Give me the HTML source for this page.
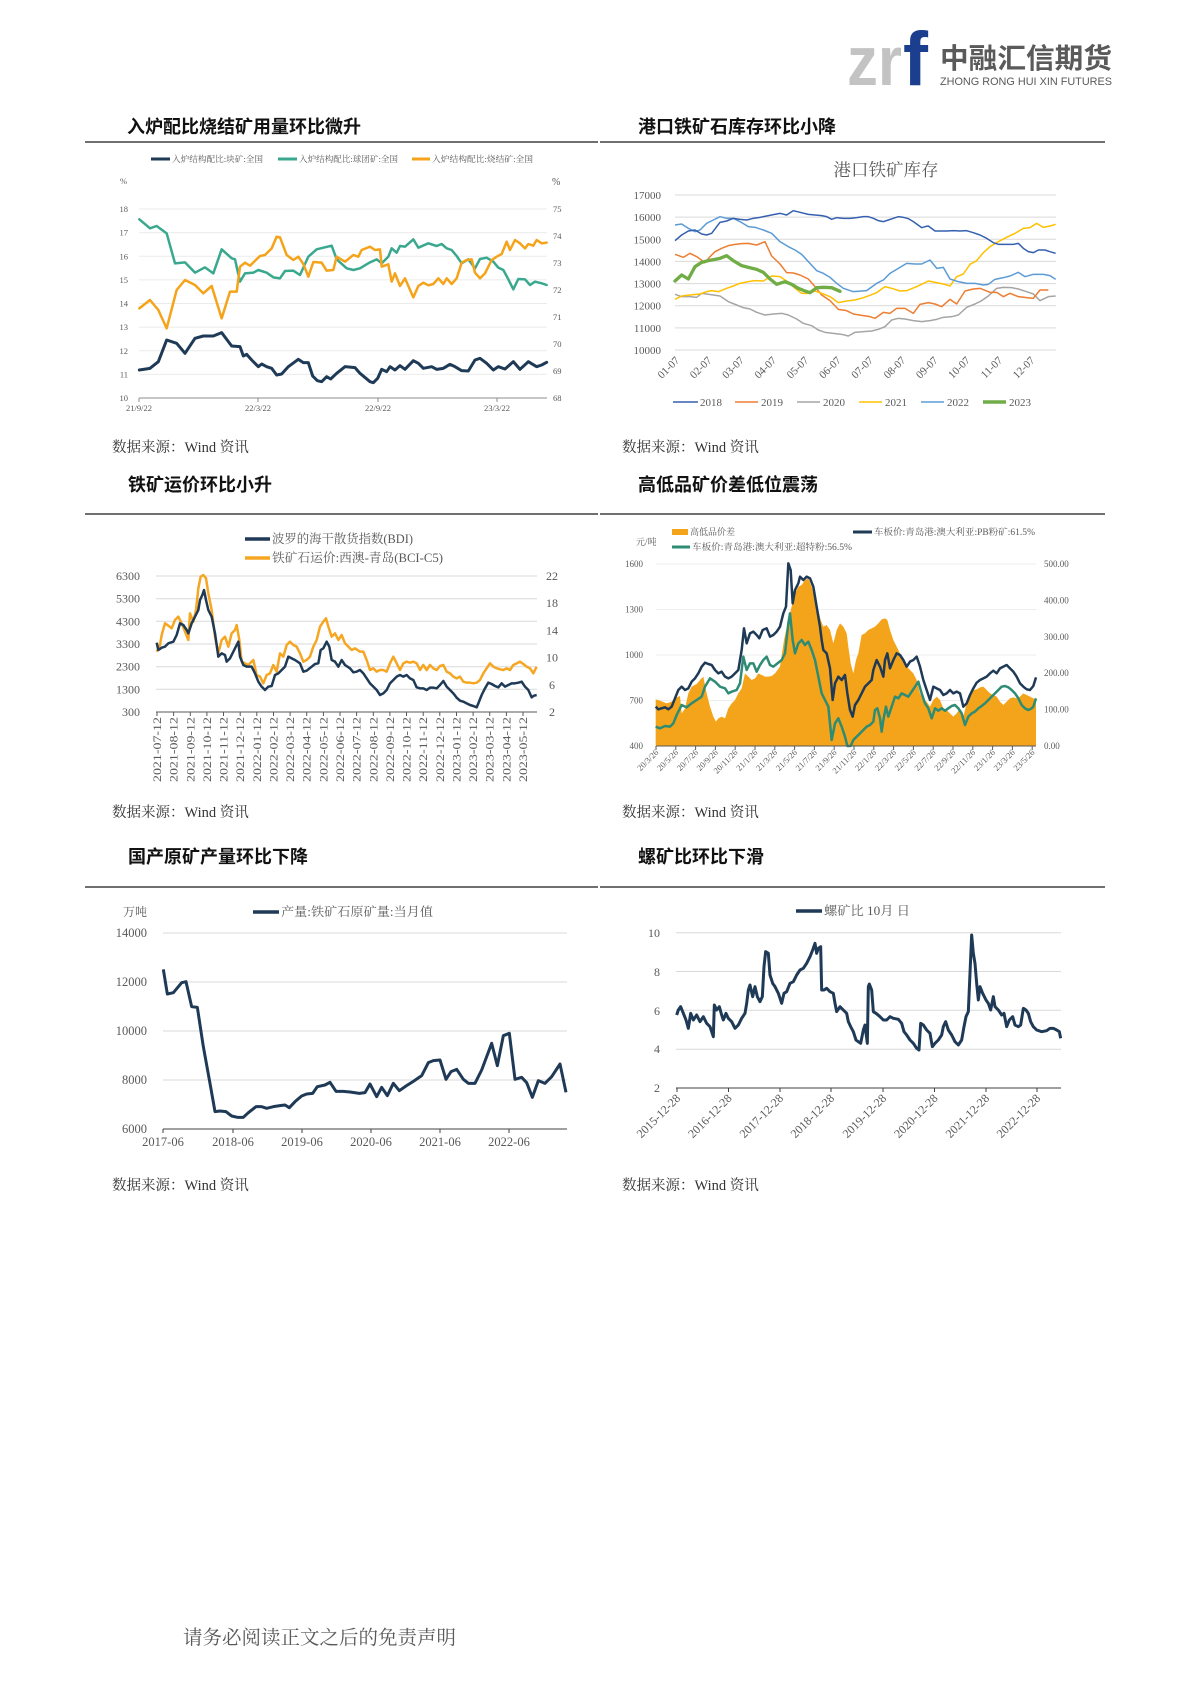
<!DOCTYPE html>
<html><head><meta charset="utf-8"><style>
html,body{margin:0;padding:0;background:#fff;}
svg{display:block;}
.t{font-family:"Liberation Sans","Noto Sans CJK SC",sans-serif;font-weight:bold;font-size:18px;fill:#111;}
.s{font-family:"Liberation Serif","Noto Serif CJK SC",serif;fill:#595959;}
.src{font-family:"Liberation Serif","Noto Serif CJK SC",serif;font-size:14.5px;fill:#333;}
</style></head><body>
<svg width="1190" height="1683" viewBox="0 0 1190 1683" xmlns="http://www.w3.org/2000/svg">
<rect width="1190" height="1683" fill="#fff"/>
<!-- logo -->
<text x="847" y="85" font-family="Liberation Sans" font-weight="bold" font-size="70" fill="#C3C3C3" textLength="55" lengthAdjust="spacingAndGlyphs">zr</text>
<text x="903" y="85" font-family="Liberation Sans" font-weight="bold" font-size="76" fill="#1B3F8E" textLength="25" lengthAdjust="spacingAndGlyphs">f</text>
<text x="940" y="68" font-family="Liberation Sans,Noto Sans CJK SC,sans-serif" font-weight="bold" font-size="28" fill="#5A5A5A" textLength="172" lengthAdjust="spacingAndGlyphs">中融汇信期货</text>
<text x="940" y="85" font-family="Liberation Sans,sans-serif" font-size="11" fill="#5A5A5A" textLength="172" lengthAdjust="spacingAndGlyphs">ZHONG RONG HUI XIN FUTURES</text>

<!-- section lines -->
<g stroke="#404040" stroke-width="1.5">
<line x1="85" y1="142" x2="598" y2="142"/><line x1="600" y1="142" x2="1105" y2="142"/>
<line x1="85" y1="514" x2="598" y2="514"/><line x1="600" y1="514" x2="1105" y2="514"/>
<line x1="85" y1="887" x2="598" y2="887"/><line x1="600" y1="887" x2="1105" y2="887"/>
</g>

<!-- titles -->
<text class="t" x="127" y="133">入炉配比烧结矿用量环比微升</text>
<text class="t" x="638" y="133">港口铁矿石库存环比小降</text>
<text class="t" x="128" y="491">铁矿运价环比小升</text>
<text class="t" x="638" y="491">高低品矿价差低位震荡</text>
<text class="t" x="128" y="863">国产原矿产量环比下降</text>
<text class="t" x="638" y="863">螺矿比环比下滑</text>

<!-- sources -->
<text class="src" x="112" y="452">数据来源：Wind 资讯</text>
<text class="src" x="622" y="452">数据来源：Wind 资讯</text>
<text class="src" x="112" y="817">数据来源：Wind 资讯</text>
<text class="src" x="622" y="817">数据来源：Wind 资讯</text>
<text class="src" x="112" y="1190">数据来源：Wind 资讯</text>
<text class="src" x="622" y="1190">数据来源：Wind 资讯</text>

<!-- footer -->
<text x="183" y="1644" font-family="Liberation Serif,Noto Serif CJK SC,serif" font-size="19.5" fill="#595959">请务必阅读正文之后的免责声明</text>

<!-- ============ CHART 1 ============ -->
<g stroke="#EBEBEB" stroke-width="1">
<line x1="139" y1="209" x2="547" y2="209"/><line x1="139" y1="232.6" x2="547" y2="232.6"/><line x1="139" y1="256.3" x2="547" y2="256.3"/><line x1="139" y1="279.9" x2="547" y2="279.9"/><line x1="139" y1="303.5" x2="547" y2="303.5"/><line x1="139" y1="327.1" x2="547" y2="327.1"/><line x1="139" y1="350.8" x2="547" y2="350.8"/><line x1="139" y1="374.4" x2="547" y2="374.4"/>
</g>
<line x1="139" y1="398" x2="547" y2="398" stroke="#8C8C8C" stroke-width="1"/>
<g stroke="#8C8C8C"><line x1="139" y1="398" x2="139" y2="402"/><line x1="258" y1="398" x2="258" y2="402"/><line x1="378" y1="398" x2="378" y2="402"/><line x1="497" y1="398" x2="497" y2="402"/></g>
<g class="s" font-size="8.5" text-anchor="end">
<text x="128" y="212">18</text><text x="128" y="235.6">17</text><text x="128" y="259.3">16</text><text x="128" y="282.9">15</text><text x="128" y="306.5">14</text><text x="128" y="330.1">13</text><text x="128" y="353.8">12</text><text x="128" y="377.4">11</text><text x="128" y="401">10</text>
</g>
<g class="s" font-size="8.5">
<text x="553" y="212">75</text><text x="553" y="239">74</text><text x="553" y="266">73</text><text x="553" y="293">72</text><text x="553" y="320">71</text><text x="553" y="347">70</text><text x="553" y="374">69</text><text x="553" y="401">68</text>
<text x="120" y="184">%</text><text x="552" y="185" font-size="10">%</text>
</g>
<g class="s" font-size="8.5" text-anchor="middle">
<text x="139" y="411">21/9/22</text><text x="258" y="411">22/3/22</text><text x="378" y="411">22/9/22</text><text x="497" y="411">23/3/22</text>
</g>
<g stroke-width="3">
<line x1="151" y1="159" x2="170" y2="159" stroke="#1F3A56"/>
<line x1="278" y1="159" x2="297" y2="159" stroke="#3AA88E"/>
<line x1="412" y1="159" x2="430" y2="159" stroke="#F5A31A"/>
</g>
<g class="s" font-size="8.5">
<text x="172" y="162" textLength="91" lengthAdjust="spacingAndGlyphs">入炉结构配比:块矿:全国</text>
<text x="299" y="162" textLength="99" lengthAdjust="spacingAndGlyphs">入炉结构配比:球团矿:全国</text>
<text x="432" y="162" textLength="101" lengthAdjust="spacingAndGlyphs">入炉结构配比:烧结矿:全国</text>
</g>
<g transform="translate(80,100) scale(0.333333)" fill="none" stroke-linejoin="round" stroke-linecap="round">
<polyline stroke="#3AA88E" stroke-width="7.5" points="178,358 210,385 230,378 260,400 285,490 315,487 345,518 375,502 400,520 425,448 455,475 465,478 480,545 495,520 520,518 535,510 560,518 580,532 600,535 615,513 640,512 660,525 685,470 710,448 755,437 770,478 800,505 820,510 840,505 870,487 890,478 905,490 925,470 935,445 950,458 960,438 975,440 1000,418 1015,443 1045,430 1070,438 1085,432 1100,445 1115,450 1130,468 1145,490 1165,478 1185,505 1200,477 1220,473 1240,485 1255,503 1270,510 1285,538 1300,568 1315,537 1335,538 1350,555 1365,545 1385,550 1400,555"/>
<polyline stroke="#F5A31A" stroke-width="7.5" points="178,625 210,600 235,630 260,685 290,570 315,540 345,555 370,580 395,558 425,655 450,575 470,575 480,500 495,488 510,497 540,468 555,465 575,445 590,410 600,412 620,465 640,480 655,470 670,492 685,530 700,486 725,488 740,512 760,510 770,470 795,485 820,465 835,470 845,450 870,440 885,450 900,448 905,500 925,493 935,545 945,520 960,558 975,535 1000,592 1015,558 1030,548 1045,556 1060,552 1075,535 1090,552 1100,535 1115,552 1130,535 1145,488 1160,480 1175,478 1185,518 1200,535 1215,520 1235,480 1250,470 1265,462 1280,425 1290,450 1305,420 1320,430 1335,445 1345,432 1360,437 1370,420 1385,430 1400,428"/>
<polyline stroke="#1F3A56" stroke-width="9" points="178,810 210,805 235,785 260,720 290,730 315,760 345,715 370,708 400,708 425,698 455,738 480,740 490,768 500,763 515,780 535,800 545,792 560,800 575,805 590,825 605,822 625,800 655,778 670,788 685,788 698,828 712,842 725,845 740,830 752,837 770,820 795,800 825,803 840,820 870,845 880,848 893,835 905,808 920,815 930,800 945,810 960,797 975,808 1000,782 1015,790 1030,805 1055,800 1070,808 1090,805 1110,793 1125,800 1145,812 1165,813 1185,780 1200,775 1220,790 1240,810 1255,800 1275,807 1300,785 1320,808 1345,785 1370,800 1385,795 1400,787"/>
</g>

<!-- ============ CHART 2 ============ -->
<text class="s" x="886" y="176" font-size="17.5" text-anchor="middle">港口铁矿库存</text>
<g stroke="#D9D9D9" stroke-width="1">
<line x1="675" y1="195" x2="1056" y2="195"/><line x1="675" y1="217.1" x2="1056" y2="217.1"/><line x1="675" y1="239.3" x2="1056" y2="239.3"/><line x1="675" y1="261.4" x2="1056" y2="261.4"/><line x1="675" y1="283.6" x2="1056" y2="283.6"/><line x1="675" y1="305.7" x2="1056" y2="305.7"/><line x1="675" y1="327.9" x2="1056" y2="327.9"/><line x1="675" y1="350" x2="1056" y2="350"/>
</g>
<g class="s" font-size="11" text-anchor="end" fill="#404040">
<text x="661" y="199">17000</text><text x="661" y="221.1">16000</text><text x="661" y="243.3">15000</text><text x="661" y="265.4">14000</text><text x="661" y="287.6">13000</text><text x="661" y="309.7">12000</text><text x="661" y="331.9">11000</text><text x="661" y="354">10000</text>
</g>
<g class="s" font-size="11" text-anchor="end" fill="#404040">
<text transform="translate(680,361) rotate(-45)">01-07</text>
<text transform="translate(712.3,361) rotate(-45)">02-07</text>
<text transform="translate(744.6,361) rotate(-45)">03-07</text>
<text transform="translate(776.9,361) rotate(-45)">04-07</text>
<text transform="translate(809.2,361) rotate(-45)">05-07</text>
<text transform="translate(841.5,361) rotate(-45)">06-07</text>
<text transform="translate(873.8,361) rotate(-45)">07-07</text>
<text transform="translate(906.1,361) rotate(-45)">08-07</text>
<text transform="translate(938.4,361) rotate(-45)">09-07</text>
<text transform="translate(970.7,361) rotate(-45)">10-07</text>
<text transform="translate(1003,361) rotate(-45)">11-07</text>
<text transform="translate(1035.3,361) rotate(-45)">12-07</text>
</g>
<g stroke-width="1.5">
<line x1="673" y1="402" x2="698" y2="402" stroke="#3560B0"/>
<line x1="735" y1="402" x2="758" y2="402" stroke="#ED7D31"/>
<line x1="797" y1="402" x2="820" y2="402" stroke="#A5A5A5"/>
<line x1="859" y1="402" x2="882" y2="402" stroke="#FFC000"/>
<line x1="921" y1="402" x2="944" y2="402" stroke="#5B9BD5"/>
<line x1="983" y1="402" x2="1006" y2="402" stroke="#70AD47" stroke-width="3.5"/>
</g>
<g class="s" font-size="11" fill="#404040">
<text x="700" y="406">2018</text><text x="761" y="406">2019</text><text x="823" y="406">2020</text><text x="885" y="406">2021</text><text x="947" y="406">2022</text><text x="1009" y="406">2023</text>
</g>
<g transform="translate(600,100) scale(0.333333)" fill="none" stroke-linejoin="round" stroke-width="4.5">
<polyline stroke="#A5A5A5" points="225,583 245,590 270,590 290,592 305,580 320,582 340,585 360,588 385,605 410,615 430,623 450,627 470,637 495,645 520,642 545,640 565,645 590,657 610,670 635,677 655,690 675,697 700,700 725,703 745,708 765,697 790,695 815,693 835,688 855,680 875,660 895,655 915,657 940,662 965,665 990,662 1010,658 1030,652 1055,650 1075,645 1100,622 1125,612 1145,602 1165,588 1190,565 1210,562 1235,563 1255,567 1280,575 1300,582 1320,602 1345,590 1367,588"/>
<polyline stroke="#ED7D31" points="225,463 250,472 270,460 290,470 315,488 330,470 345,455 365,445 385,437 405,433 425,431 445,430 470,435 495,425 515,468 540,492 560,518 580,519 600,525 625,537 645,560 665,585 690,602 715,628 740,632 760,642 790,647 810,650 825,655 850,637 870,640 890,625 915,625 940,640 960,613 985,608 1005,612 1025,620 1050,598 1070,612 1095,573 1120,567 1140,565 1170,577 1190,577 1210,590 1230,580 1255,590 1280,593 1300,595 1320,570 1345,570"/>
<polyline stroke="#FFC000" points="225,598 245,588 270,585 300,582 320,575 335,572 355,575 380,565 400,558 420,550 445,545 465,542 490,543 515,528 540,530 560,543 585,565 605,580 625,580 645,573 665,580 690,590 715,608 740,603 765,600 790,593 810,586 830,578 855,560 875,565 900,573 920,572 945,562 965,553 985,543 1010,548 1030,552 1050,558 1070,530 1090,522 1110,493 1130,482 1150,458 1170,440 1195,425 1220,412 1245,400 1270,385 1290,383 1310,370 1330,382 1350,378 1367,373"/>
<polyline stroke="#5B9BD5" points="225,375 245,372 265,385 285,395 300,390 320,370 340,360 360,350 380,355 400,355 420,365 445,380 465,382 490,390 515,400 540,425 565,440 585,450 605,463 625,485 650,512 670,520 690,532 710,550 730,565 760,575 800,572 830,550 850,540 870,520 895,505 920,490 945,492 965,492 990,480 1010,505 1030,502 1050,537 1075,545 1100,550 1125,550 1150,555 1165,553 1185,538 1210,533 1230,528 1255,517 1275,530 1300,523 1330,523 1350,527 1367,538"/>
<polyline stroke="#3560B0" points="225,422 245,405 265,393 285,390 305,402 320,405 335,400 360,367 380,363 400,355 420,358 440,360 460,355 480,352 500,348 520,344 540,340 560,345 580,332 600,337 625,343 645,345 665,347 680,350 695,358 710,353 730,355 750,355 770,353 790,350 805,350 820,355 835,362 850,365 865,360 880,355 895,350 910,352 925,356 940,365 950,372 965,383 975,380 985,378 1005,393 1020,393 1040,393 1060,392 1080,393 1100,392 1120,398 1140,405 1160,415 1180,428 1195,433 1220,433 1240,433 1255,430 1270,445 1285,455 1300,458 1315,450 1335,450 1350,455 1367,460"/>
<polyline stroke="#70AD47" stroke-width="10" stroke-linecap="round" points="225,543 245,525 265,537 285,500 305,487 325,482 345,478 360,475 380,467 400,482 425,497 445,502 470,508 490,517 510,537 530,553 555,545 575,553 595,565 615,573 630,578 650,563 670,562 695,563 720,574"/>
</g>

<!-- ============ CHART 3 ============ -->
<g stroke="#D9D9D9" stroke-width="1">
<line x1="156" y1="576" x2="537" y2="576"/><line x1="156" y1="598.7" x2="537" y2="598.7"/><line x1="156" y1="621.3" x2="537" y2="621.3"/><line x1="156" y1="644" x2="537" y2="644"/><line x1="156" y1="666.7" x2="537" y2="666.7"/><line x1="156" y1="689.3" x2="537" y2="689.3"/>
</g>
<line x1="156" y1="712" x2="537" y2="712" stroke="#595959" stroke-width="1"/>
<g stroke="#595959" stroke-width="1">
<line x1="157" y1="712" x2="157" y2="716"/><line x1="173.6" y1="712" x2="173.6" y2="716"/><line x1="190.3" y1="712" x2="190.3" y2="716"/><line x1="206.9" y1="712" x2="206.9" y2="716"/><line x1="223.5" y1="712" x2="223.5" y2="716"/><line x1="240.2" y1="712" x2="240.2" y2="716"/><line x1="256.8" y1="712" x2="256.8" y2="716"/><line x1="273.5" y1="712" x2="273.5" y2="716"/><line x1="290.1" y1="712" x2="290.1" y2="716"/><line x1="306.7" y1="712" x2="306.7" y2="716"/><line x1="323.4" y1="712" x2="323.4" y2="716"/><line x1="340" y1="712" x2="340" y2="716"/><line x1="356.6" y1="712" x2="356.6" y2="716"/><line x1="373.3" y1="712" x2="373.3" y2="716"/><line x1="389.9" y1="712" x2="389.9" y2="716"/><line x1="406.5" y1="712" x2="406.5" y2="716"/><line x1="423.2" y1="712" x2="423.2" y2="716"/><line x1="439.8" y1="712" x2="439.8" y2="716"/><line x1="456.5" y1="712" x2="456.5" y2="716"/><line x1="473.1" y1="712" x2="473.1" y2="716"/><line x1="489.7" y1="712" x2="489.7" y2="716"/><line x1="506.4" y1="712" x2="506.4" y2="716"/><line x1="523" y1="712" x2="523" y2="716"/>
</g>
<g class="s" font-size="12" text-anchor="end" fill="#404040">
<text x="140" y="580">6300</text><text x="140" y="602.7">5300</text><text x="140" y="625.3">4300</text><text x="140" y="648">3300</text><text x="140" y="670.7">2300</text><text x="140" y="693.3">1300</text><text x="140" y="716">300</text>
</g>
<g class="s" font-size="12" fill="#404040">
<text x="546" y="580">22</text><text x="546" y="607.2">18</text><text x="546" y="634.4">14</text><text x="546" y="661.6">10</text><text x="549" y="688.8">6</text><text x="549" y="716">2</text>
</g>
<g class="s" font-size="12" text-anchor="end" fill="#404040">
<text transform="translate(161,717) rotate(-90)" textLength="65" lengthAdjust="spacingAndGlyphs">2021-07-12</text>
<text transform="translate(177.6,717) rotate(-90)" textLength="65" lengthAdjust="spacingAndGlyphs">2021-08-12</text>
<text transform="translate(194.3,717) rotate(-90)" textLength="65" lengthAdjust="spacingAndGlyphs">2021-09-12</text>
<text transform="translate(210.9,717) rotate(-90)" textLength="65" lengthAdjust="spacingAndGlyphs">2021-10-12</text>
<text transform="translate(227.5,717) rotate(-90)" textLength="65" lengthAdjust="spacingAndGlyphs">2021-11-12</text>
<text transform="translate(244.2,717) rotate(-90)" textLength="65" lengthAdjust="spacingAndGlyphs">2021-12-12</text>
<text transform="translate(260.8,717) rotate(-90)" textLength="65" lengthAdjust="spacingAndGlyphs">2022-01-12</text>
<text transform="translate(277.5,717) rotate(-90)" textLength="65" lengthAdjust="spacingAndGlyphs">2022-02-12</text>
<text transform="translate(294.1,717) rotate(-90)" textLength="65" lengthAdjust="spacingAndGlyphs">2022-03-12</text>
<text transform="translate(310.7,717) rotate(-90)" textLength="65" lengthAdjust="spacingAndGlyphs">2022-04-12</text>
<text transform="translate(327.4,717) rotate(-90)" textLength="65" lengthAdjust="spacingAndGlyphs">2022-05-12</text>
<text transform="translate(344,717) rotate(-90)" textLength="65" lengthAdjust="spacingAndGlyphs">2022-06-12</text>
<text transform="translate(360.6,717) rotate(-90)" textLength="65" lengthAdjust="spacingAndGlyphs">2022-07-12</text>
<text transform="translate(377.3,717) rotate(-90)" textLength="65" lengthAdjust="spacingAndGlyphs">2022-08-12</text>
<text transform="translate(393.9,717) rotate(-90)" textLength="65" lengthAdjust="spacingAndGlyphs">2022-09-12</text>
<text transform="translate(410.5,717) rotate(-90)" textLength="65" lengthAdjust="spacingAndGlyphs">2022-10-12</text>
<text transform="translate(427.2,717) rotate(-90)" textLength="65" lengthAdjust="spacingAndGlyphs">2022-11-12</text>
<text transform="translate(443.8,717) rotate(-90)" textLength="65" lengthAdjust="spacingAndGlyphs">2022-12-12</text>
<text transform="translate(460.5,717) rotate(-90)" textLength="65" lengthAdjust="spacingAndGlyphs">2023-01-12</text>
<text transform="translate(477.1,717) rotate(-90)" textLength="65" lengthAdjust="spacingAndGlyphs">2023-02-12</text>
<text transform="translate(493.7,717) rotate(-90)" textLength="65" lengthAdjust="spacingAndGlyphs">2023-03-12</text>
<text transform="translate(510.4,717) rotate(-90)" textLength="65" lengthAdjust="spacingAndGlyphs">2023-04-12</text>
<text transform="translate(527,717) rotate(-90)" textLength="65" lengthAdjust="spacingAndGlyphs">2023-05-12</text>
</g>
<g stroke-width="3.5">
<line x1="245" y1="539" x2="270" y2="539" stroke="#1F3A56"/>
<line x1="245" y1="558" x2="270" y2="558" stroke="#F5A623"/>
</g>
<g class="s" font-size="12.5" fill="#404040">
<text x="272" y="543" textLength="141" lengthAdjust="spacingAndGlyphs">波罗的海干散货指数(BDI)</text>
<text x="272" y="562" textLength="171" lengthAdjust="spacingAndGlyphs">铁矿石运价:西澳-青岛(BCI-C5)</text>
</g>
<g transform="translate(80,460) scale(0.333333)" fill="none" stroke-linejoin="round" stroke-width="7.5">
<polyline stroke="#F5A623" points="230,575 240,555 245,525 255,490 265,497 275,505 285,480 295,470 305,490 315,515 325,540 330,460 340,485 348,450 355,385 362,350 370,345 378,355 385,400 395,450 405,530 415,580 425,540 435,530 445,560 455,520 465,510 470,495 478,540 485,605 495,610 505,615 520,600 530,645 540,650 550,670 560,645 570,640 580,615 590,635 600,580 610,590 620,555 630,545 640,555 650,560 660,580 670,605 680,600 690,590 700,560 710,540 720,500 730,485 738,475 745,500 755,530 765,520 775,540 785,525 795,550 805,560 815,570 825,565 840,575 850,575 860,600 870,630 880,625 890,635 900,630 910,630 920,635 930,610 940,590 950,610 960,630 970,610 980,605 990,608 1000,605 1010,610 1020,630 1030,615 1040,630 1050,615 1060,625 1070,630 1080,618 1090,615 1100,635 1110,640 1120,650 1130,655 1140,650 1150,665 1160,668 1170,668 1180,670 1190,668 1200,660 1210,640 1220,625 1230,610 1240,620 1250,625 1260,628 1270,630 1280,625 1290,630 1300,615 1310,610 1320,605 1330,612 1340,620 1350,625 1360,640 1370,620"/>
<polyline stroke="#1F3A56" points="230,548 235,570 245,563 255,560 265,550 280,545 290,525 300,490 310,495 320,510 325,520 335,490 345,470 355,450 360,420 367,405 372,390 378,420 385,450 395,470 405,520 415,590 425,580 435,585 440,605 450,595 460,575 470,555 475,545 480,590 490,615 500,620 515,620 525,640 535,665 545,680 555,690 565,680 575,678 585,645 595,640 605,630 615,620 625,590 635,595 645,600 660,610 670,635 680,632 695,620 705,612 715,610 722,570 730,565 740,545 748,560 755,600 765,605 775,620 785,600 795,615 810,625 820,637 830,635 840,630 850,640 860,655 870,670 880,680 890,690 900,705 910,700 920,690 930,670 940,660 950,650 960,645 970,650 980,645 990,655 1000,660 1010,682 1020,685 1030,685 1040,690 1050,683 1060,683 1070,685 1080,675 1090,663 1100,680 1110,690 1120,700 1130,713 1140,722 1150,725 1160,730 1170,735 1180,738 1190,742 1195,730 1205,705 1215,685 1225,668 1235,672 1245,678 1255,682 1265,670 1275,680 1285,675 1295,670 1305,670 1315,668 1325,665 1335,680 1345,690 1355,712 1362,707 1370,705"/>
</g>

<!-- ============ CHART 4 ============ -->
<g stroke="#EDEDED" stroke-width="1">
<line x1="656" y1="564" x2="1036" y2="564"/><line x1="656" y1="609.5" x2="1036" y2="609.5"/><line x1="656" y1="655" x2="1036" y2="655"/><line x1="656" y1="700.5" x2="1036" y2="700.5"/>
</g>
<g transform="translate(600,460) scale(0.333333)" stroke-linejoin="round">
<polygon fill="#F4A41B" points="167,858 167,718 180,722 200,730 215,725 230,712 240,708 245,760 255,745 265,700 275,680 290,672 300,660 310,650 320,700 330,740 340,770 348,785 355,775 365,770 375,775 385,745 395,730 405,720 415,700 425,685 435,640 445,650 455,660 465,655 475,640 485,645 495,650 505,650 515,648 525,640 540,620 552,540 565,480 575,440 585,400 595,380 605,375 615,360 625,355 635,380 645,420 655,450 662,480 670,500 680,495 690,510 700,550 710,510 720,490 730,500 740,520 745,560 752,610 760,640 768,600 775,580 785,525 795,520 805,510 815,505 825,500 835,490 845,478 855,475 862,480 870,510 880,540 890,560 900,580 910,600 920,620 930,630 940,640 950,660 960,700 970,720 980,725 990,740 1000,720 1010,710 1020,720 1030,745 1040,750 1050,760 1060,770 1070,760 1080,745 1090,770 1100,730 1110,700 1120,690 1130,688 1140,682 1150,680 1160,690 1170,700 1180,705 1190,710 1200,725 1210,735 1220,725 1230,715 1240,712 1250,715 1260,710 1270,700 1280,705 1290,710 1300,715 1308,718 1308,858"/>
<polyline fill="none" stroke="#2E8B74" stroke-width="7.5" points="167,800 180,805 195,798 210,800 220,790 230,765 245,735 260,742 275,730 290,720 305,710 315,680 330,655 345,665 360,680 375,685 385,700 395,695 410,690 420,670 430,590 440,630 450,610 460,610 470,635 480,615 490,600 500,590 510,615 520,620 530,612 545,600 555,580 565,490 570,460 578,540 585,580 595,550 605,540 615,555 625,545 635,570 645,600 655,650 665,700 675,720 685,740 695,840 705,790 715,775 725,800 735,830 742,858 752,858 760,840 770,830 780,820 790,810 800,800 810,795 820,785 825,750 832,745 840,775 845,815 850,780 858,740 865,770 875,740 885,710 895,715 905,700 915,705 925,710 935,695 945,680 955,665 965,700 975,730 985,745 995,775 1005,745 1015,752 1025,745 1035,752 1045,745 1055,738 1065,735 1075,745 1085,760 1095,795 1105,770 1115,760 1125,755 1135,745 1145,738 1155,730 1165,720 1175,710 1185,700 1195,690 1205,680 1215,678 1225,682 1235,690 1245,700 1255,715 1265,735 1275,745 1285,750 1295,745 1300,740 1308,715"/>
<polyline fill="none" stroke="#1F3A56" stroke-width="7.5" points="167,740 175,748 185,745 195,742 205,748 215,740 225,715 235,690 245,680 255,690 265,685 275,665 285,655 295,640 305,620 315,608 325,612 335,615 345,630 355,640 365,635 375,650 385,655 395,650 405,640 415,630 425,570 432,505 440,550 450,520 460,515 470,525 478,535 488,510 500,505 510,530 520,525 530,515 540,500 550,460 558,440 565,310 572,330 578,430 585,390 595,370 600,350 610,360 620,350 630,355 640,380 650,440 660,500 665,540 670,570 680,580 690,625 698,720 705,670 715,650 725,660 735,645 742,700 750,750 758,770 765,735 775,720 785,700 795,680 805,670 815,660 820,630 830,600 840,620 850,650 855,600 862,580 870,625 880,600 890,580 900,585 910,600 920,620 930,605 940,600 950,590 960,620 970,660 980,690 990,720 1000,680 1010,685 1020,690 1030,705 1040,700 1050,690 1060,700 1070,695 1080,700 1090,740 1100,730 1110,705 1120,685 1130,668 1140,660 1150,655 1160,650 1170,640 1180,632 1190,640 1200,625 1210,620 1220,615 1230,625 1240,635 1250,650 1260,670 1270,680 1280,688 1290,690 1300,678 1308,652"/>
</g>
<line x1="656" y1="746" x2="1036" y2="746" stroke="#595959" stroke-width="1"/>
<g stroke="#595959" stroke-width="1">
<line x1="656" y1="746" x2="656" y2="750"/><line x1="675.8" y1="746" x2="675.8" y2="750"/><line x1="695.6" y1="746" x2="695.6" y2="750"/><line x1="715.4" y1="746" x2="715.4" y2="750"/><line x1="735.2" y1="746" x2="735.2" y2="750"/><line x1="755" y1="746" x2="755" y2="750"/><line x1="774.8" y1="746" x2="774.8" y2="750"/><line x1="794.6" y1="746" x2="794.6" y2="750"/><line x1="814.4" y1="746" x2="814.4" y2="750"/><line x1="834.2" y1="746" x2="834.2" y2="750"/><line x1="854" y1="746" x2="854" y2="750"/><line x1="873.8" y1="746" x2="873.8" y2="750"/><line x1="893.6" y1="746" x2="893.6" y2="750"/><line x1="913.4" y1="746" x2="913.4" y2="750"/><line x1="933.2" y1="746" x2="933.2" y2="750"/><line x1="953" y1="746" x2="953" y2="750"/><line x1="972.8" y1="746" x2="972.8" y2="750"/><line x1="992.6" y1="746" x2="992.6" y2="750"/><line x1="1012.4" y1="746" x2="1012.4" y2="750"/><line x1="1032.2" y1="746" x2="1032.2" y2="750"/>
</g>
<g class="s" font-size="9" text-anchor="end" fill="#7F7F7F">
<text x="643" y="567">1600</text><text x="643" y="612.5">1300</text><text x="643" y="658">1000</text><text x="643" y="703.5">700</text><text x="643" y="749">400</text>
</g>
<g class="s" font-size="9" fill="#7F7F7F">
<text x="1044" y="567">500.00</text><text x="1044" y="603.4">400.00</text><text x="1044" y="639.8">300.00</text><text x="1044" y="676.2">200.00</text><text x="1044" y="712.6">100.00</text><text x="1044" y="749">0.00</text>
<text x="636" y="545">元/吨</text>
</g>
<g class="s" font-size="8.5" text-anchor="end" fill="#7F7F7F">
<text transform="translate(659,753) rotate(-45)">20/3/26</text>
<text transform="translate(678.8,753) rotate(-45)">20/5/26</text>
<text transform="translate(698.6,753) rotate(-45)">20/7/26</text>
<text transform="translate(718.4,753) rotate(-45)">20/9/26</text>
<text transform="translate(738.2,753) rotate(-45)">20/11/26</text>
<text transform="translate(758,753) rotate(-45)">21/1/26</text>
<text transform="translate(777.8,753) rotate(-45)">21/3/26</text>
<text transform="translate(797.6,753) rotate(-45)">21/5/26</text>
<text transform="translate(817.4,753) rotate(-45)">21/7/26</text>
<text transform="translate(837.2,753) rotate(-45)">21/9/26</text>
<text transform="translate(857,753) rotate(-45)">21/11/26</text>
<text transform="translate(876.8,753) rotate(-45)">22/1/26</text>
<text transform="translate(896.6,753) rotate(-45)">22/3/26</text>
<text transform="translate(916.4,753) rotate(-45)">22/5/26</text>
<text transform="translate(936.2,753) rotate(-45)">22/7/26</text>
<text transform="translate(956,753) rotate(-45)">22/9/26</text>
<text transform="translate(975.8,753) rotate(-45)">22/11/26</text>
<text transform="translate(995.6,753) rotate(-45)">23/1/26</text>
<text transform="translate(1015.4,753) rotate(-45)">23/3/26</text>
<text transform="translate(1035.2,753) rotate(-45)">23/5/26</text>
</g>
<rect x="672" y="529" width="16" height="6" fill="#F4A41B"/>
<line x1="853" y1="532" x2="872" y2="532" stroke="#1F3A56" stroke-width="3"/>
<line x1="672" y1="547" x2="690" y2="547" stroke="#2E8B74" stroke-width="3"/>
<g class="s" font-size="9" fill="#7F7F7F">
<text x="690" y="535">高低品价差</text>
<text x="874" y="535" textLength="161" lengthAdjust="spacingAndGlyphs">车板价:青岛港:澳大利亚:PB粉矿:61.5%</text>
<text x="692" y="550" textLength="160" lengthAdjust="spacingAndGlyphs">车板价:青岛港:澳大利亚:超特粉:56.5%</text>
</g>

<!-- ============ CHART 5 ============ -->
<g stroke="#D9D9D9" stroke-width="1">
<line x1="163" y1="933" x2="567" y2="933"/><line x1="163" y1="982" x2="567" y2="982"/><line x1="163" y1="1031" x2="567" y2="1031"/><line x1="163" y1="1080" x2="567" y2="1080"/>
</g>
<line x1="163" y1="1129" x2="567" y2="1129" stroke="#404040" stroke-width="1"/>
<g stroke="#404040" stroke-width="1">
<line x1="163" y1="1129" x2="163" y2="1133"/><line x1="233" y1="1129" x2="233" y2="1133"/><line x1="302" y1="1129" x2="302" y2="1133"/><line x1="371" y1="1129" x2="371" y2="1133"/><line x1="440" y1="1129" x2="440" y2="1133"/><line x1="509" y1="1129" x2="509" y2="1133"/>
</g>
<g class="s" font-size="12.5" text-anchor="end" fill="#404040">
<text x="147" y="937">14000</text><text x="147" y="986">12000</text><text x="147" y="1035">10000</text><text x="147" y="1084">8000</text><text x="147" y="1133">6000</text>
</g>
<g class="s" font-size="12.5" text-anchor="middle" fill="#404040">
<text x="163" y="1146">2017-06</text><text x="233" y="1146">2018-06</text><text x="302" y="1146">2019-06</text><text x="371" y="1146">2020-06</text><text x="440" y="1146">2021-06</text><text x="509" y="1146">2022-06</text>
</g>
<text class="s" x="123" y="916" font-size="12" fill="#404040">万吨</text>
<line x1="253" y1="912" x2="279" y2="912" stroke="#1F3A56" stroke-width="3.5"/>
<text class="s" x="281" y="916" font-size="12.5" fill="#404040" textLength="152" lengthAdjust="spacingAndGlyphs">产量:铁矿石原矿量:当月值</text>
<g transform="translate(80,840) scale(0.333333)" fill="none" stroke-linejoin="round">
<polyline stroke="#1F3A56" stroke-width="9" points="250,388 262,462 280,458 295,440 305,428 318,425 335,500 352,502 370,620 390,730 405,815 420,813 438,815 455,828 472,832 490,832 505,818 528,800 545,800 560,805 580,800 600,797 615,795 628,803 645,785 665,768 680,762 698,760 712,740 735,735 750,727 768,754 790,754 810,756 838,760 855,758 870,732 890,770 905,742 922,767 940,730 958,752 978,738 1000,724 1025,707 1045,668 1060,662 1080,660 1098,718 1113,695 1130,688 1150,718 1165,730 1185,730 1205,690 1235,610 1252,677 1270,587 1288,580 1305,718 1325,712 1340,728 1357,772 1375,722 1395,730 1415,710 1440,672 1458,757"/>
</g>

<!-- ============ CHART 6 ============ -->
<g stroke="#D9D9D9" stroke-width="1">
<line x1="676" y1="932.7" x2="1061" y2="932.7"/><line x1="676" y1="971.5" x2="1061" y2="971.5"/><line x1="676" y1="1010.3" x2="1061" y2="1010.3"/><line x1="676" y1="1049.2" x2="1061" y2="1049.2"/>
</g>
<line x1="676" y1="1088" x2="1061" y2="1088" stroke="#404040" stroke-width="1"/>
<g stroke="#404040" stroke-width="1">
<line x1="677" y1="1088" x2="677" y2="1092"/><line x1="728.5" y1="1088" x2="728.5" y2="1092"/><line x1="780" y1="1088" x2="780" y2="1092"/><line x1="831" y1="1088" x2="831" y2="1092"/><line x1="883" y1="1088" x2="883" y2="1092"/><line x1="934.5" y1="1088" x2="934.5" y2="1092"/><line x1="986" y1="1088" x2="986" y2="1092"/><line x1="1037" y1="1088" x2="1037" y2="1092"/>
</g>
<g class="s" font-size="12" text-anchor="end" fill="#404040">
<text x="660" y="937">10</text><text x="660" y="976">8</text><text x="660" y="1015">6</text><text x="660" y="1053">4</text><text x="660" y="1092">2</text>
</g>
<g class="s" font-size="12" text-anchor="end" fill="#404040">
<text transform="translate(681,1099) rotate(-45)">2015-12-28</text>
<text transform="translate(732.5,1099) rotate(-45)">2016-12-28</text>
<text transform="translate(784,1099) rotate(-45)">2017-12-28</text>
<text transform="translate(835,1099) rotate(-45)">2018-12-28</text>
<text transform="translate(887,1099) rotate(-45)">2019-12-28</text>
<text transform="translate(938.5,1099) rotate(-45)">2020-12-28</text>
<text transform="translate(990,1099) rotate(-45)">2021-12-28</text>
<text transform="translate(1041,1099) rotate(-45)">2022-12-28</text>
</g>
<line x1="796" y1="911" x2="822" y2="911" stroke="#1F3A56" stroke-width="3.5"/>
<text class="s" x="824" y="915" font-size="12.5" fill="#404040" textLength="86" lengthAdjust="spacingAndGlyphs">螺矿比 10月 日</text>
<g transform="translate(600,840) scale(0.333333)" fill="none" stroke-linejoin="round">
<polyline stroke="#1F3A56" stroke-width="9" points="230,525 235,510 242,500 250,520 258,540 265,565 272,520 280,540 290,525 300,545 310,530 320,550 330,560 340,590 343,495 350,510 358,500 365,525 370,540 378,520 385,535 395,545 405,565 415,555 425,535 435,520 440,490 445,450 450,435 458,470 465,440 472,470 480,485 487,470 492,380 497,335 505,340 510,405 518,430 525,440 535,460 545,490 552,460 560,455 570,430 580,425 590,405 600,390 610,385 620,370 630,350 638,330 645,310 650,340 655,325 662,320 665,450 672,450 680,445 690,455 700,460 705,490 710,515 720,500 730,510 740,520 745,545 752,560 760,575 768,600 775,605 782,610 790,570 795,555 802,610 805,440 808,432 815,450 820,515 828,520 840,530 850,540 860,540 870,530 880,535 895,538 905,550 912,575 920,585 930,600 940,610 950,625 957,630 962,550 970,555 980,570 990,580 997,620 1005,610 1015,600 1025,585 1030,560 1037,545 1045,570 1055,585 1065,605 1075,615 1085,600 1092,560 1098,530 1105,515 1110,400 1115,285 1120,340 1125,370 1130,430 1135,480 1140,440 1148,460 1158,480 1165,490 1172,510 1180,470 1185,500 1195,510 1205,525 1212,520 1220,560 1228,540 1238,530 1245,555 1255,560 1262,555 1270,505 1278,510 1285,520 1292,545 1300,560 1310,570 1325,575 1340,572 1350,565 1360,565 1370,570 1378,575 1382,595"/>
</g>
</svg>
</body></html>
